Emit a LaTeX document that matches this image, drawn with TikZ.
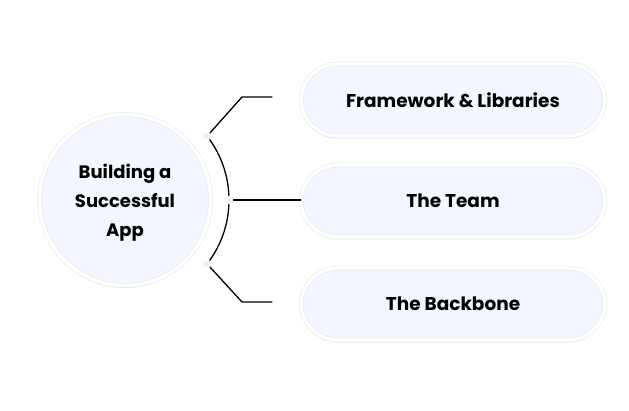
\documentclass[tikz,border=0pt]{standalone}
\usepackage{fontspec}
\setmainfont{Poppins}
\usepackage{tikz}
\usetikzlibrary{shadows}
\definecolor{bubble}{RGB}{243,246,254}
\definecolor{rim}{RGB}{226,228,234}
\definecolor{knob}{RGB}{236,238,248}

\tikzset{
  topic/.style={draw=rim, double=white, double distance=3.5pt, line width=0.5pt,
    fill=bubble, drop shadow={shadow xshift=0pt, shadow yshift=-2.5pt, opacity=0.22},
    font=\fontsize{18.5}{22}\selectfont\bfseries},
  branch/.style={topic, rounded corners=37pt, minimum width=304pt, minimum height=72pt},
  link/.style={line width=1.3pt, line cap=round, line join=round}
}

\begin{document}
\begin{tikzpicture}[x=1pt, y=1pt]
\useasboundingbox (0,0) rectangle (629,410);

% central topic
\node[topic, circle, minimum size=171pt, align=center, text depth=0pt,
  font=\fontsize{18}{29}\selectfont\bfseries] (app) at (125,210) {Building a\\Successful\\App};

% arc and knobs
\draw[link] (125,210) ++(38:104) arc (38:-38:104);
\foreach \a/\n in {38/1, 0/2, -38/3}
  \node[circle, fill=knob, draw=white, line width=0.8pt, inner sep=0pt, minimum size=8pt] (k\n) at ([shift={(\a:104)}]125,210) {};

% branches
\node[branch] (frame)    at (453,310) {Framework \& Libraries};
\node[branch] (team)     at (453,209) {The Team};
\node[branch] (backbone) at (453,106) {The Backbone};

% connectors
\coordinate (e1) at (272,313);
\coordinate (e3) at (272,108);
\draw[link] (k1.north east) -- (242,313) -- (e1);
\draw[link] (k2.east) -- (k2.east -| team.west);
\draw[link] (k3.south east) -- (242,108) -- (e3);
\end{tikzpicture}
\end{document}
